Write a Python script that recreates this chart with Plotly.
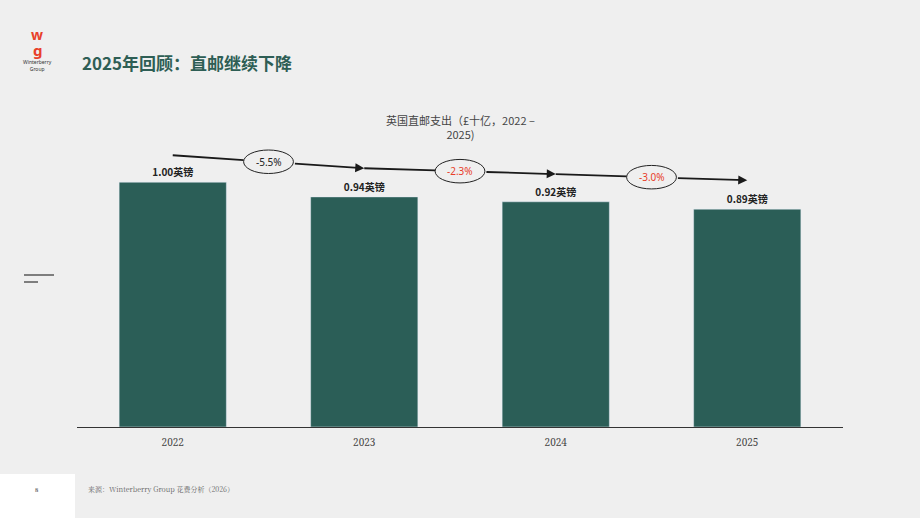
import plotly.graph_objects as go

years = ["2022", "2023", "2024", "2025"]
spend = [1.00, 0.94, 0.92, 0.89]
bar_labels = ["<b>1.00英镑</b>", "<b>0.94英镑</b>", "<b>0.92英镑</b>", "<b>0.89英镑</b>"]
arrow_y = [1.11, 1.057, 1.033, 1.008]
changes = ["-5.5%", "-2.3%", "-3.0%"]
change_colors = ["#222222", "#E8402A", "#E8402A"]

BG = "#EFEFEF"
GREEN = "#2B5E57"
W, H, L, R, T, B = 920, 518, 77, 77, 121, 91
PW, PH = W - L - R, H - T - B
EW, EH = 0.13, 0.048

def px(x):
    return (x - L) / PW

def py(y):
    return (H - B - y) / PH

fig = go.Figure(go.Bar(x=[0, 1, 2, 3], y=spend, marker_color=GREEN, width=0.56,
                       text=bar_labels, textposition="outside",
                       textfont=dict(family="Noto Sans CJK SC", size=10, color="#222"),
                       cliponaxis=False, hoverinfo="skip"))

anns, shapes = [], []
for i in range(3):
    y0, y1 = arrow_y[i], arrow_y[i + 1]
    xm = i + 0.5
    ym = (y0 + y1) / 2
    slope = y1 - y0
    yl, yr = ym - slope * EW, ym + slope * EW
    shapes.append(dict(type="line", xref="x", yref="y", x0=i, y0=y0, x1=xm - EW, y1=yl,
                       line=dict(color="#1a1a1a", width=1.8)))
    anns.append(dict(x=i + 1, y=y1, ax=xm + EW, ay=yr, xref="x", yref="y",
                     axref="x", ayref="y", showarrow=True, arrowhead=2, arrowsize=1,
                     arrowwidth=1.8, arrowcolor="#1a1a1a", text=""))
    shapes.append(dict(type="circle", xref="x", yref="y", x0=xm - EW, x1=xm + EW,
                       y0=ym - EH, y1=ym + EH,
                       line=dict(color="#222", width=1), fillcolor=BG))
    anns.append(dict(x=xm, y=ym, xref="x", yref="y", showarrow=False, text=changes[i],
                     font=dict(family="Noto Sans", size=10, color=change_colors[i])))

pix = [
    (80, 48, "<b>2025年回顾：直邮继续下降</b>", "left", dict(family="Noto Sans CJK SC", size=17, color="#2E5E55")),
    (460, 110, "英国直邮支出（£十亿，2022 –<br>2025)", "center", dict(family="Noto Sans CJK SC", size=11, color="#444")),
    (37, 23, "<b>w</b>", "center", dict(family="Noto Sans", size=14, color="#E8402A")),
    (37, 38, "<b>g</b>", "center", dict(family="Noto Sans", size=15, color="#E8402A")),
    (37, 57, "Winterberry<br>Group", "center", dict(family="Noto Sans", size=5, color="#333")),
    (37, 496, "8", "center", dict(family="Noto Serif, DejaVu Serif", size=6, color="#333")),
    (86, 496, "来源：Winterberry Group 花费分析（2026）", "left",
     dict(family="Noto Serif CJK SC, Noto Sans CJK SC", size=7, color="#666")),
]
for x, y, t, xa, f in pix:
    anns.append(dict(x=px(x), y=py(y), xref="paper", yref="paper", text=t, showarrow=False,
                     xanchor=xa, font=f))

shapes += [
    dict(type="rect", xref="paper", yref="paper", x0=px(0), x1=px(75), y0=py(518), y1=py(474),
         fillcolor="white", line_width=0, layer="below"),
    dict(type="line", xref="paper", yref="paper", x0=px(24), x1=px(54), y0=py(275), y1=py(275),
         line=dict(color="#333", width=1.2)),
    dict(type="line", xref="paper", yref="paper", x0=px(24), x1=px(38), y0=py(282), y1=py(282),
         line=dict(color="#333", width=1.2)),
]

fig.update_layout(
    width=W, height=H, paper_bgcolor=BG, plot_bgcolor=BG, showlegend=False,
    margin=dict(l=L, r=R, t=T, b=B), annotations=anns, shapes=shapes,
    xaxis=dict(tickvals=[0, 1, 2, 3], ticktext=years, range=[-0.5, 3.5], showgrid=False,
               showline=True, linecolor="#333", linewidth=1, zeroline=False, ticks="",
               ticklabelstandoff=6,
               tickfont=dict(family="Noto Serif, DejaVu Serif", size=10, color="#444")),
    yaxis=dict(range=[0, 1.25], visible=False),
)
fig.write_html("out.html", config={"displayModeBar": False},
               post_script="document.body.style.margin='0';")
